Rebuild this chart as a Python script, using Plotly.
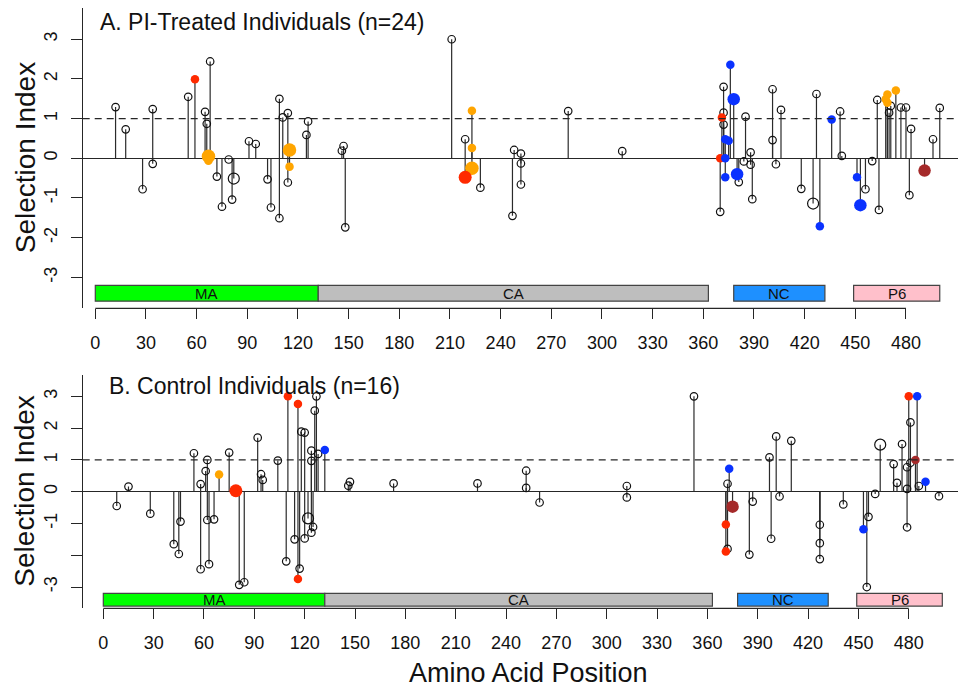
import plotly.graph_objects as go

# ---------------- data ----------------
# marker kinds: o open small, O open large, r/R red, y/Y orange, b/B blue, d/D brown (lower=small, upper=large)
a_pos = [12, 18, 28, 34, 34, 55, 59, 65, 66, 68, 67, 67, 72, 75, 79, 81, 82, 91, 95, 102, 104, 109, 109, 111,
         114, 114, 115, 115, 125, 126, 146, 147, 148, 211, 219, 223, 223, 223, 219, 228, 247, 248, 252, 252,
         252, 280, 312, 370, 370, 371, 372, 372, 372, 373, 375, 373, 373, 376, 378, 380, 381, 384, 385, 388,
         388, 389, 401, 401, 403, 406, 418, 425, 427, 429, 436, 441, 442, 451, 453, 456, 460, 463, 464, 468,
         469, 469, 470, 471, 474, 477, 480, 482, 483, 491, 496, 500]
a_val = [1.29, 0.73, -0.78, 1.24, -0.14, 1.55, 1.99, 1.17, 0.87, 2.44, -0.06, 0.05, -0.46, -1.22, -0.03, -1.04,
         -0.51, 0.43, 0.36, -0.53, -1.24, 1.50, -1.51, 1.03, 1.14, -0.61, 0.21, -0.21, 0.59, 0.93, 0.19, 0.31,
         -1.74, 3.0, 0.48, 1.2, 0.26, -0.25, -0.48, -0.74, -1.45, 0.21, 0.12, -0.13, -0.66, 1.19, 0.18, -1.35,
         0.0, 1.03, 1.80, 1.15, 0.85, 0.48, 0.44, 0.0, -0.48, 2.36, 1.49, -0.40, -0.60, -0.08, 1.05, 0.15,
         -0.16, -1.03, 1.74, 0.46, -0.15, 1.22, -0.77, -1.14, 1.62, -1.71, 0.98, 1.18, 0.06, -0.48, -1.18,
         -0.78, -0.07, 1.47, -1.30, 1.49, 1.61, 1.40, 1.15, 1.32, 1.71, 1.28, 1.28, -0.93, 0.74, -0.31, 0.48,
         1.27]
a_kind = ["o", "o", "o", "o", "o", "o", "r", "o", "o", "o", "y", "Y", "o", "o", "o", "o", "O", "o", "o", "o",
          "o", "o", "o", "o", "o", "o", "Y", "y", "o", "o", "o", "o", "o", "o", "o", "y", "y", "Y", "R", "o",
          "o", "o", "o", "o", "o", "o", "o", "o", "r", "r", "o", "o", "o", "b", "b", "b", "b", "b", "B", "B",
          "o", "o", "o", "o", "o", "o", "o", "o", "o", "o", "o", "O", "o", "b", "b", "o", "o", "b", "B", "o",
          "o", "o", "o", "y", "y", "y", "o", "o", "y", "o", "o", "o", "o", "D", "o", "o"]

b_pos = [8, 15, 28, 42, 45, 46, 54, 58, 58, 61, 62, 62, 63, 66, 69, 75, 79, 81, 84, 92, 94, 95, 104, 110, 109,
         116, 114, 117, 116, 118, 120, 120, 122, 124, 124, 124, 125, 126, 127, 128, 132, 146, 147, 173, 223,
         252, 252, 260, 312, 312, 352, 373, 372, 371, 371, 372, 375, 387, 385, 397, 398, 401, 403, 410, 427,
         427, 427, 441, 453, 455, 456, 460, 463, 471, 473, 476, 479, 479, 479, 480, 481, 481, 484, 485, 486,
         490, 498]
b_val = [-0.45, 0.16, -0.69, -1.65, -1.96, -0.94, 1.21, 0.24, -2.44, 0.65, 1.0, -0.89, -2.28, -0.87, 0.54,
         1.23, 0.03, -2.93, -2.85, 1.70, 0.55, 0.37, 0.98, 3.0, -2.19, 2.76, -1.50, -2.42, -2.75, 1.89, 1.86,
         -1.47, -0.84, 1.29, 0.97, -1.29, -1.11, 2.55, 3.0, 1.19, 1.31, 0.19, 0.31, 0.26, 0.26, 0.66, 0.12,
         -0.34, 0.18, -0.18, 3.0, 0.72, 0.25, -1.03, -1.88, -1.80, -0.47, -0.31, -1.98, 1.08, -1.48, 1.74,
         -0.15, 1.60, -1.04, -1.62, -2.12, -0.40, -1.18, -3.0, -0.79, -0.07, 1.48, 0.87, 0.28, 1.50, 0.77,
         0.09, -1.12, 3.0, 2.18, 0.91, 1.0, 3.0, 0.18, 0.31, -0.14]
b_kind = ["o", "o", "o", "o", "o", "o", "o", "o", "o", "o", "o", "o", "o", "o", "y", "o", "R", "o", "o", "o",
          "o", "o", "o", "r", "o", "r", "o", "o", "r", "o", "o", "o", "O", "o", "o", "o", "o", "o", "o", "o",
          "b", "o", "o", "o", "o", "o", "o", "o", "o", "o", "o", "b", "o", "r", "r", "o", "D", "o", "o", "o",
          "o", "o", "o", "o", "o", "o", "o", "o", "b", "o", "o", "o", "O", "o", "o", "o", "o", "o", "o", "r",
          "o", "o", "d", "b", "o", "b", "o"]

domain_names = ["MA", "CA", "NC", "P6"]
domain_start = [0, 132, 378, 449]
domain_end = [132, 363, 432, 500]
domain_colors = ["#00FF00", "#BEBEBE", "#1E90FF", "#FFC0CB"]

x_ticks = list(range(0, 481, 30))
y_ticks = [-3, -2, -1, 0, 1, 2, 3]
a_ytext = ["-3", "-2", "-1", "0", "1", "2", "3"]
b_ytext = ["-3", "", "-1", "0", "1", "2", "3"]

titles = ["A. PI-Treated Individuals (n=24)", "B. Control Individuals (n=16)"]

# ---------------- figure ----------------
# the page body has an 8px margin, so the figure is 16px smaller than the window
OFF = 8
W, H = 966 - 2 * OFF, 696 - 2 * OFF
FONT = "Liberation Sans, Arial, Helvetica, sans-serif"
INK = "#262626"


def fx(px):
    return (px - OFF) / W


def fy(py):
    return 1 - (py - OFF) / H


styles = {
    "o": dict(symbol="circle-open", size=7.5, color="#111111", line=dict(width=1.2, color="#111111")),
    "O": dict(symbol="circle-open", size=11, color="#111111", line=dict(width=1.2, color="#111111")),
    "r": dict(symbol="circle", size=8.5, color="#FF2A00"),
    "R": dict(symbol="circle", size=13, color="#FF2A00"),
    "y": dict(symbol="circle", size=8.5, color="#FFA500"),
    "Y": dict(symbol="circle", size=13.5, color="#FFA500"),
    "b": dict(symbol="circle", size=8.5, color="#0A32FF"),
    "B": dict(symbol="circle", size=12.5, color="#0A32FF"),
    "d": dict(symbol="circle", size=8.5, color="#A52A2A"),
    "D": dict(symbol="circle", size=12.5, color="#A52A2A"),
}
kind_order = ["o", "O", "y", "Y", "r", "R", "b", "B", "d", "D"]

fig = go.Figure()

panels = [
    dict(pos=a_pos, val=a_val, kind=a_kind, xa="x", ya="y", ytext=a_ytext,
         ydom=(fy(308.3), fy(8.3)), yr=(-3.78, 3.78), xr=(-7.46, 510.8),
         title=titles[0], tpos=(98, 22)),
    dict(pos=b_pos, val=b_val, kind=b_kind, xa="x2", ya="y2", ytext=b_ytext,
         ydom=(fy(608.3), fy(375)), yr=(-3.669, 3.672), xr=(-12.28, 509.35),
         title=titles[1], tpos=(107, 386)),
]

xdom = (fx(82.7), fx(958))

for i, p in enumerate(panels):
    # stems
    sx, sy = [], []
    for x, v in zip(p["pos"], p["val"]):
        sx += [x, x, None]
        sy += [0, v, None]
    fig.add_trace(go.Scatter(x=sx, y=sy, mode="lines", xaxis=p["xa"], yaxis=p["ya"],
                             line=dict(color="#2b2b2b", width=1.2), hoverinfo="skip", showlegend=False))
    for k in kind_order:
        xs = [x for x, kk in zip(p["pos"], p["kind"]) if kk == k]
        ys = [v for v, kk in zip(p["val"], p["kind"]) if kk == k]
        if not xs:
            continue
        fig.add_trace(go.Scatter(x=xs, y=ys, mode="markers", xaxis=p["xa"], yaxis=p["ya"],
                                 marker=styles[k], showlegend=False))

    suffix = "" if i == 0 else "2"
    fig.update_layout(**{
        "xaxis" + suffix: dict(domain=list(xdom), range=list(p["xr"]), anchor=p["ya"], showgrid=False,
                               zeroline=False, showline=False, tickmode="array", tickvals=x_ticks,
                               ticktext=[str(t) for t in x_ticks], ticks="outside", ticklen=10,
                               tickwidth=1, tickcolor=INK, ticklabelstandoff=8,
                               tickfont=dict(family=FONT, size=18, color="#111")),
        "yaxis" + suffix: dict(domain=list(p["ydom"]), range=list(p["yr"]), anchor=p["xa"], showgrid=False,
                               zeroline=True, zerolinecolor=INK, zerolinewidth=1.3,
                               showline=True, linecolor=INK, linewidth=1.2,
                               tickmode="array", tickvals=y_ticks, ticktext=p["ytext"],
                               ticks="outside", ticklen=11, tickwidth=1, tickcolor=INK,
                               tickangle=-90, ticklabelstandoff=6,
                               tickfont=dict(family=FONT, size=18, color="#111")),
    })
    # x axis line only across the tick range
    fig.add_shape(type="line", xref=p["xa"], yref=p["ya"] + " domain", x0=x_ticks[0], x1=x_ticks[-1],
                  y0=0, y1=0, line=dict(color=INK, width=1.2))
    # threshold dashed line
    fig.add_shape(type="line", xref=p["xa"] + " domain", yref=p["ya"], x0=0, x1=1, y0=1, y1=1,
                  line=dict(color=INK, width=1.3, dash="7px,5px"))
    # protein domain bars
    for name, s, e, c in zip(domain_names, domain_start, domain_end, domain_colors):
        fig.add_shape(type="rect", xref=p["xa"], yref=p["ya"], x0=s, x1=e, y0=-3.6, y1=-3.2,
                      fillcolor=c, line=dict(color="#444444", width=1.2), layer="above")
        fig.add_annotation(x=(s + e) / 2, y=-3.4, xref=p["xa"], yref=p["ya"], text=name,
                           showarrow=False, font=dict(family=FONT, size=15, color="#111"))
    # panel title
    fig.add_annotation(x=fx(p["tpos"][0]), y=fy(p["tpos"][1]), xref="paper", yref="paper",
                       text=p["title"], showarrow=False, xanchor="left", yanchor="middle",
                       font=dict(family=FONT, size=23, color="#111"))
    # y axis title
    yc = (p["ydom"][0] + p["ydom"][1]) / 2
    fig.add_annotation(x=fx(25), y=yc, xref="paper", yref="paper", text="Selection Index",
                       showarrow=False, textangle=-90, xanchor="center", yanchor="middle",
                       font=dict(family=FONT, size=28, color="#111"))

# x axis title, kept just inside the bottom edge of the figure
fig.add_annotation(x=fx(528), y=0, xref="paper", yref="paper", text="Amino Acid Position",
                   showarrow=False, xanchor="center", yanchor="bottom", yshift=-2,
                   font=dict(family=FONT, size=27, color="#111"))

fig.update_layout(width=W, height=H, margin=dict(l=0, r=0, t=0, b=0),
                  paper_bgcolor="white", plot_bgcolor="white", showlegend=False)

fig.write_html("out.html")
